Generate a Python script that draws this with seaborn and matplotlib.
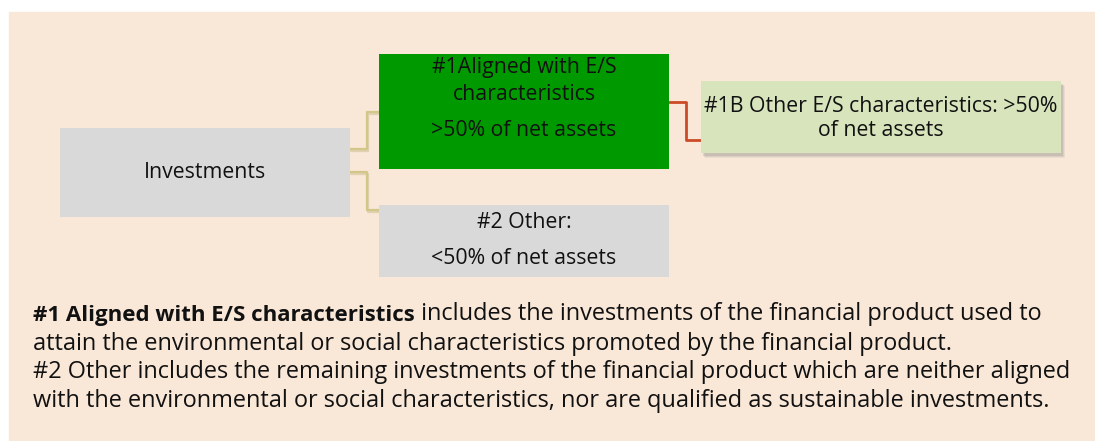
import numpy as np
import pandas as pd
import matplotlib
matplotlib.use("Agg")
import matplotlib.pyplot as plt
from matplotlib.patches import Rectangle
import seaborn as sns

# ---- content ----
root_label = ["Investments"]
aligned_label = ["#1Aligned with E/S", "characteristics", ">50% of net assets"]
other_label = ["#2 Other:", "<50% of net assets"]
es_label = ["#1B Other E/S characteristics: >50%", "of net assets"]
note_bold = "#1 Aligned with E/S characteristics"
note_rest = [" includes the investments of the financial product used to",
             "attain the environmental or social characteristics promoted by the financial product.",
             "#2 Other includes the remaining investments of the financial product which are neither aligned",
             "with the environmental or social characteristics, nor are qualified as sustainable investments."]

# ---- layout (pixels, y down) ----
W, H = 1095, 441
boxes = {
    "root":    (60, 128, 350, 217),
    "aligned": (379, 54, 669, 169),
    "other":   (379, 205, 669, 277),
    "es":      (701, 81, 1061, 153),
}
box_colors = {"root": "#D9D9D9", "aligned": "#009A00", "other": "#D9D9D9", "es": "#D8E4BC"}
# (parent, child, y at parent, y at child, elbow x, colour, width)
links = [("root", "aligned", 149, 112, 367, "#D2C788", 1.6),
         ("root", "other", 172, 210, 367, "#D2C788", 1.6),
         ("aligned", "es", 102, 140, 686, "#CC4B26", 2.0)]
label_rows = {"root": [172], "aligned": [68, 94, 131], "other": [223, 259], "es": [107, 131]}
labels = {"root": root_label, "aligned": aligned_label, "other": other_label, "es": es_label}
note_rows = [321, 350, 378, 407]

sns.set_theme(style="white")
plt.rcParams['font.family'] = ['Open Sans', 'DejaVu Sans']
fs_box = 15.3
fs_note = 16.9
fs_bold = 16.0

fig = plt.figure(figsize=(W / 100, H / 100), dpi=100)
fig.patch.set_facecolor("white")
ax = fig.add_axes([0, 0, 1, 1])

ax.add_patch(Rectangle((9, 12), W - 9, H - 12, color="#F9E7D7", zorder=0))

# connectors
rows = []
for i, (p, c, y0, y1, xm, col, lw) in enumerate(links):
    x0 = boxes[p][2]
    x1 = boxes[c][0]
    for x, y in [(x0, y0), (xm, y0), (xm, y1), (x1, y1)]:
        rows.append({"link": i, "x": x, "y": y})
df_links = pd.DataFrame(rows)
for i, (p, c, y0, y1, xm, col, lw) in enumerate(links):
    sub = df_links[df_links["link"] == i]
    if i < 2:
        shade = sub.assign(x=sub["x"] + 1, y=sub["y"] + 1.5)
        sns.lineplot(data=shade, x="x", y="y", sort=False, estimator=None, ax=ax,
                     color="#C8BC8A", alpha=0.5, lw=lw, zorder=1)
    sns.lineplot(data=sub, x="x", y="y", sort=False, estimator=None, ax=ax,
                 color=col, lw=lw, zorder=2)
ax.set_xlim(0, W)
ax.set_ylim(H, 0)
ax.axis("off")

# shadow of the E/S box
x0, y0, x1, y1 = boxes["es"]
for k, a in [(5, 0.10), (4, 0.15), (3, 0.2)]:
    ax.add_patch(Rectangle((x0 + k - 1, y0 + k), x1 - x0, y1 - y0, color="#7F7F7F",
                           alpha=a, lw=0, zorder=2))

for name, (x0, y0, x1, y1) in boxes.items():
    ax.add_patch(Rectangle((x0, y0), x1 - x0, y1 - y0, color=box_colors[name], lw=0, zorder=3))
    xc = (x0 + x1) / 2
    for txt, yy in zip(labels[name], label_rows[name]):
        ax.text(xc, yy, txt, ha="center", va="center", fontsize=fs_box, color="#111111", zorder=4)

# note under the diagram
t = ax.text(33, note_rows[0], note_bold, ha="left", va="baseline", fontsize=fs_bold,
            fontweight="bold", color="#111111")
ax.annotate(note_rest[0], xy=(1, 0), xycoords=t, ha="left", va="bottom",
            fontsize=fs_note, color="#111111")
for txt, yy in zip(note_rest[1:], note_rows[1:]):
    ax.text(33, yy, txt, ha="left", va="baseline", fontsize=fs_note, color="#111111")

fig.savefig("out.png", dpi=100, facecolor="white")
